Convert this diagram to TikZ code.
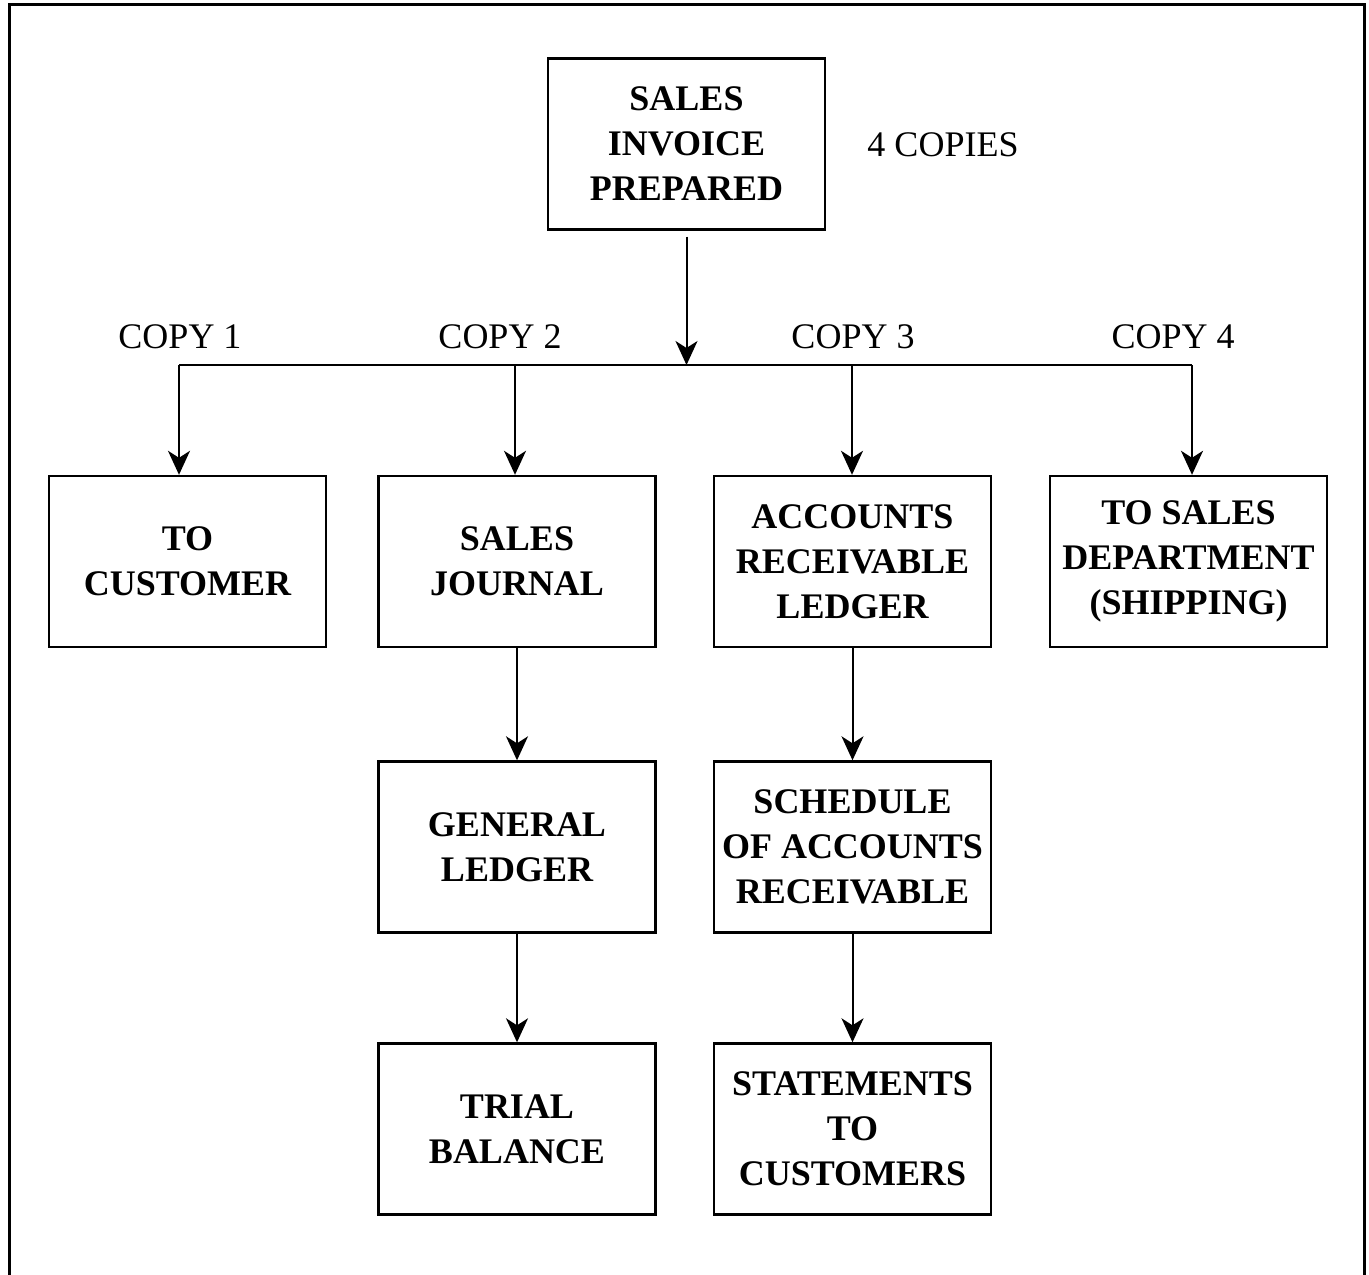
\documentclass[tikz,border=0pt]{standalone}
\usepackage{fontspec}
\setmainfont{Liberation Serif}
\usetikzlibrary{arrows.meta}
\begin{document}
\begin{tikzpicture}[x=0.5pt,y=-0.5pt,
  flowbox/.style={draw, line width=1.2pt, minimum width=138.5pt, minimum height=85.5pt,
    inner sep=0pt, align=center, font=\fontsize{18}{22.5}\selectfont\bfseries},
  copylabel/.style={inner sep=0pt, font=\fontsize{18}{22}\selectfont},
  flow/.style={line width=1pt, -{Stealth[length=12pt, width=11pt, inset=3.5pt]}},
  link/.style={line width=1pt}]
\useasboundingbox (0,0) rectangle (1369,1274);
% page frame, open at the bottom
\draw[line width=1.5pt] (9,1300) -- (9,4) -- (1364,4) -- (1364,1300);

% boxes
\node[flowbox] (inv)   at (686.5,144)  {SALES\\INVOICE\\PREPARED};
\node[flowbox] (cust)  at (187.5,561.5) {TO\\CUSTOMER};
\node[flowbox] (sj)    at (517,561.5)   {SALES\\JOURNAL};
\node[flowbox] (ar)    at (852.5,561.5) {ACCOUNTS\\RECEIVABLE\\LEDGER};
\node[flowbox] (ship)  at (1188.5,561.5) {TO SALES\\DEPARTMENT\\(SHIPPING)};
\node[flowbox] (gl)    at (517,847)     {GENERAL\\LEDGER};
\node[flowbox] (sched) at (852.5,847)   {SCHEDULE\\OF ACCOUNTS\\RECEIVABLE};
\node[flowbox] (tb)    at (517,1129)    {TRIAL\\BALANCE};
\node[flowbox] (stmt)  at (852.5,1129)  {STATEMENTS\\TO\\CUSTOMERS};

% labels
\node[copylabel] (copies) at (943,145) {4 COPIES};
\node[copylabel] (c1) at (180,337)  {COPY 1};
\node[copylabel] (c2) at (500,337)  {COPY 2};
\node[copylabel] (c3) at (853,337)  {COPY 3};
\node[copylabel] (c4) at (1173,337) {COPY 4};

% distribution bus
\coordinate (b1) at (179,365);
\coordinate (b2) at (515,365);
\coordinate (b3) at (852,365);
\coordinate (b4) at (1192,365);
\coordinate (bm) at (686.5,365);
\draw[link] (b1) -- (b4);
\draw[flow] ([yshift=-3pt]inv.south) -- (bm);
\draw[flow] (b1) -- (b1 |- cust.north);
\draw[flow] (b2) -- (b2 |- sj.north);
\draw[flow] (b3) -- (b3 |- ar.north);
\draw[flow] (b4) -- (b4 |- ship.north);

% posting chains
\draw[flow] (sj.south) -- (gl.north);
\draw[flow] (gl.south) -- (tb.north);
\draw[flow] (ar.south) -- (sched.north);
\draw[flow] (sched.south) -- (stmt.north);
\end{tikzpicture}
\end{document}
